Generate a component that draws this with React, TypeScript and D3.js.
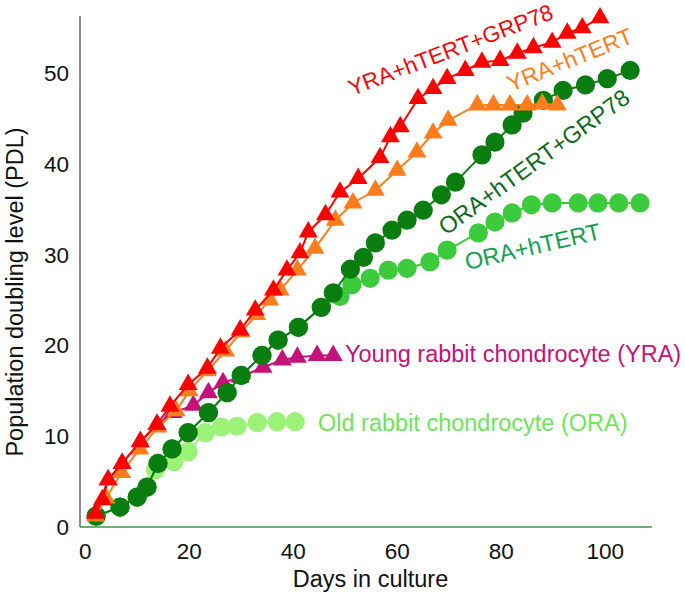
import React from "react";
import * as d3 from "d3";

// ---- Data ----
const xTicks = [0, 20, 40, 60, 80, 100];
const yTicks = [0, 10, 20, 30, 40, 50];

// YRA+hTERT+GRP78 (red triangles)
const yraHtertGrpDays = [2, 3.3, 4.4, 7.1, 10.6, 13.8, 16.3, 19.8, 23.5, 26, 29.8, 32.7, 36.2, 38.8, 41.3, 42.9, 46.2, 49, 52.5, 56.7, 58.7, 60.6, 64, 66.9, 69.6, 73.1, 76.3, 79.8, 83.1, 86.2, 89.8, 92.7, 95.6, 99];
const yraHtertGrpPdl = [1.5, 3, 5.2, 7, 9.4, 11.3, 13.3, 15.7, 17.5, 19.7, 21.7, 23.9, 26.1, 28.3, 30.2, 32.5, 34.4, 36.9, 38.4, 40.7, 43, 44.1, 47.2, 48.3, 49.4, 50.3, 51.2, 51.4, 52.2, 52.8, 53.4, 54.4, 55, 56.1];

// YRA+hTERT (orange triangles)
const yraHtertDays = [2, 4, 7, 10.5, 14, 17.5, 20, 23.5, 27, 30, 33, 35.5, 37.5, 40.8, 44.2, 48.1, 51.5, 55.8, 60, 63.8, 66.9, 69.8, 75.4, 78.5, 81.7, 85, 87.9, 90.8];
const yraHtertPdl = [1.2, 3.2, 6, 8.6, 11, 12.8, 15, 17.2, 19.4, 21.5, 23.4, 25, 26.1, 28.3, 30.7, 33.8, 35.7, 37.1, 39.3, 41.3, 43.4, 44.8, 46.5, 46.5, 46.5, 46.5, 46.6, 46.5];

// Young rabbit chondrocyte YRA (magenta triangles)
const yraDays = [2, 4.4, 7.1, 10.6, 13.8, 16.9, 20.8, 23.7, 26.5, 29.8, 34.2, 37.9, 40.8, 44.6, 47.7];
const yraPdl = [1.5, 5.2, 7, 9.4, 11.3, 12.6, 13.4, 14.8, 15.9, 16.5, 17.6, 18.4, 18.7, 18.9, 18.9];

// ORA+hTERT+GRP78 (dark green circles)
const oraHtertGrpDays = [2.1, 6.7, 10, 11.9, 14, 16.7, 19.8, 23.7, 27.3, 30, 34, 37.1, 41, 45.4, 47.7, 51, 53.5, 55.8, 59, 61.9, 65, 68.5, 71.2, 76.3, 78.8, 82.1, 84.2, 88.1, 91.9, 96.2, 100.4, 104.8];
const oraHtertGrpPdl = [1.2, 2.2, 3.3, 4.4, 7, 8.6, 10.4, 12.6, 14.8, 16.7, 18.9, 20.6, 22, 24.2, 25.8, 28.4, 29.7, 31.3, 32.7, 33.8, 34.9, 36.6, 38, 41, 42.4, 44.3, 45.6, 47, 48.1, 48.7, 49.4, 50.3];

// ORA+hTERT (medium green circles)
const oraHtertDays = [2.1, 6.7, 10, 11.9, 14, 16.7, 19.8, 23.7, 27.3, 30, 34, 37.1, 41, 45.4, 49, 51.3, 54.8, 58.3, 61.9, 66.3, 69.6, 75.6, 78.8, 82.1, 85.8, 89.8, 94.8, 98.6, 102.6, 106.7];
const oraHtertPdl = [1.2, 2.2, 3.3, 4.4, 7, 8.6, 10.4, 12.6, 14.8, 16.7, 18.9, 20.6, 22, 24.2, 25.4, 26.7, 27.4, 28.3, 28.5, 29.2, 30.5, 32.4, 33.6, 34.6, 35.5, 35.7, 35.7, 35.7, 35.7, 35.7];

// Old rabbit chondrocyte ORA (light green circles)
const oraDays = [2.1, 6.7, 10, 13.5, 17.1, 19.8, 23.1, 26.2, 29.2, 33.1, 36.9, 40.4];
const oraPdl = [1.2, 2.2, 3.3, 6.3, 7.2, 8.3, 10.4, 11, 11.1, 11.5, 11.6, 11.6];

const W = 685;
const H = 593;
const FONT = "'Liberation Sans', Arial, sans-serif";

type Series = {
  days: number[];
  pdl: number[];
  color: string;
  marker: "circle" | "triangle";
};

const series: Series[] = [
  { days: oraDays, pdl: oraPdl, color: "#9cf276", marker: "circle" },
  { days: oraHtertDays, pdl: oraHtertPdl, color: "#3ccb3c", marker: "circle" },
  { days: yraDays, pdl: yraPdl, color: "#c4127a", marker: "triangle" },
  { days: oraHtertGrpDays, pdl: oraHtertGrpPdl, color: "#0a7d10", marker: "circle" },
  { days: yraHtertDays, pdl: yraHtertPdl, color: "#ff7d1c", marker: "triangle" },
  { days: yraHtertGrpDays, pdl: yraHtertGrpPdl, color: "#ff0000", marker: "triangle" },
];

export default function App() {
  const x = d3.scaleLinear().domain([-1, 109]).range([80, 652]);
  const y = d3.scaleLinear().domain([0, 56.3]).range([527, 16]);
  const line = d3
    .line<[number, number]>()
    .x((d) => x(d[0]))
    .y((d) => y(d[1]));
  const tri = d3.symbol().type(d3.symbolTriangle).size(155)();
  const circ = d3.symbol().type(d3.symbolCircle).size(290)();

  return (
    <svg width={W} height={H} style={{ position: "absolute", left: 0, top: 0 }} fontFamily={FONT}>
      <rect width={W} height={H} fill="#fff" />
      {/* axes */}
      <line x1={80} x2={80} y1={y(56.3)} y2={y(0)} stroke="#666" strokeWidth={1.5} />
      <line x1={80} x2={x(109)} y1={y(0)} y2={y(0)} stroke="#3a9a3a" strokeWidth={1.5} />
      {xTicks.map((t) => (
        <text key={"x" + t} x={x(t)} y={559} fontSize={22.5} textAnchor="middle" fill="#111">
          {t}
        </text>
      ))}
      {yTicks.map((t) => (
        <text key={"y" + t} x={69} y={y(t) + 8} fontSize={22.5} textAnchor="end" fill="#111">
          {t}
        </text>
      ))}
      <text x={370.5} y={587} fontSize={23.5} textAnchor="middle" fill="#111">
        Days in culture
      </text>
      <text
        transform={`translate(23,292) rotate(-90)`}
        fontSize={23.5}
        textAnchor="middle"
        fill="#111"
      >
        Population doubling level (PDL)
      </text>

      {/* series */}
      {series.map((s, i) => {
        const pts: [number, number][] = s.days.map((d, k) => [d, s.pdl[k]]);
        return (
          <g key={i}>
            <path d={line(pts) || ""} fill="none" stroke={s.color} strokeWidth={2} />
            {pts.map((p, k) => (
              <path
                key={k}
                d={s.marker === "circle" ? circ : tri}
                transform={`translate(${x(p[0])},${y(p[1])})`}
                fill={s.color}
              />
            ))}
          </g>
        );
      })}

      {/* labels */}
      <text transform="translate(352,96) rotate(-21)" fontSize={22.5} fill="#ff0000">
        YRA+hTERT+GRP78
      </text>
      <text transform="translate(511,92) rotate(-22)" fontSize={23} fill="#ff7d1c">
        YRA+hTERT
      </text>
      <text transform="translate(446,236) rotate(-36)" fontSize={23.5} fill="#0b6a1a">
        ORA+hTERT+GRP78
      </text>
      <text transform="translate(467,270) rotate(-13)" fontSize={23.5} fill="#12a050">
        ORA+hTERT
      </text>
      <text x={345} y={362} fontSize={23.5} fill="#c4127a">
        Young rabbit chondrocyte (YRA)
      </text>
      <text x={318} y={431} fontSize={23.5} fill="#6fe35a">
        Old rabbit chondrocyte (ORA)
      </text>
    </svg>
  );
}
